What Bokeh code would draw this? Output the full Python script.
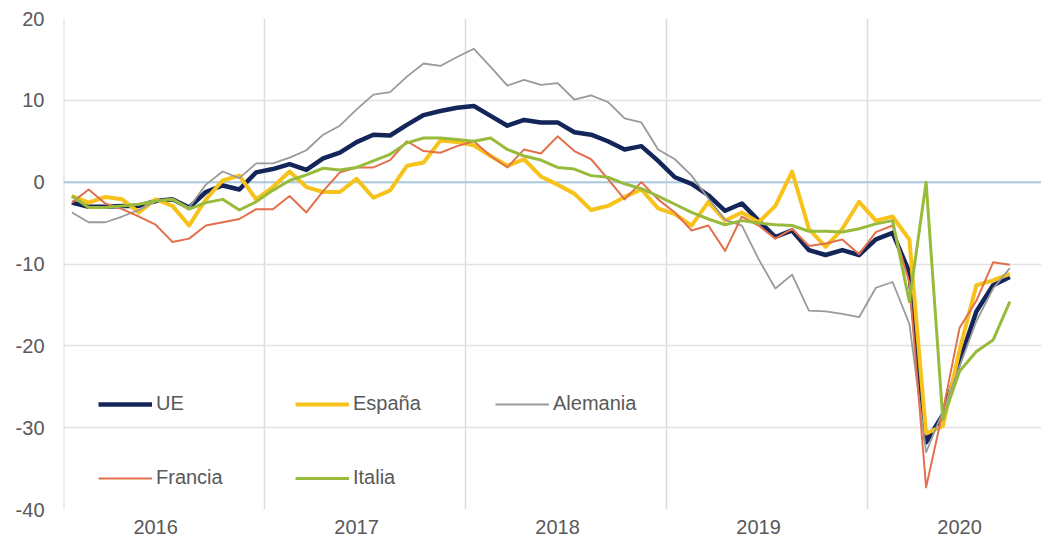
from bokeh.plotting import figure
from bokeh.models import Range1d, FixedTicker, Span, Legend, LegendItem
from bokeh.embed import file_html
from bokeh.resources import INLINE

# ---- data (monthly, Jan 2016 - Sep 2020) ----
years = ["2016", "2017", "2018", "2019", "2020"]
n_months = 57

ue = [-2.5, -3.0, -3.0, -2.9, -2.9, -2.3, -2.1, -3.1, -1.2, -0.4, -0.9, 1.2,
      1.6, 2.2, 1.5, 2.9, 3.6, 4.9, 5.8, 5.7, 7.0, 8.2, 8.7, 9.1,
      9.3, 8.1, 6.9, 7.6, 7.3, 7.3, 6.1, 5.8, 5.0, 4.0, 4.4, 2.6,
      0.6, -0.2, -1.6, -3.5, -2.6, -4.7, -6.7, -5.9, -8.3, -8.9, -8.3, -8.9,
      -7.0, -6.2, -11.0, -31.8, -28.4, -21.9, -15.8, -12.6, -11.6]

espana = [-1.7, -2.5, -1.8, -2.1, -3.7, -2.1, -2.9, -5.3, -2.1, 0.2, 0.8, -2.1,
          -0.6, 1.3, -0.6, -1.2, -1.2, 0.4, -1.9, -1.0, 2.0, 2.4, 5.1, 4.9,
          4.5, 3.2, 2.0, 2.8, 0.7, -0.3, -1.4, -3.4, -2.9, -1.8, -0.9, -3.2,
          -3.9, -5.3, -2.4, -4.7, -3.7, -4.9, -2.9, 1.3, -5.7, -7.9, -5.7, -2.4,
          -4.7, -4.2, -7.0, -30.7, -29.8, -20.5, -12.6, -12.0, -11.2]

alemania = [-3.7, -4.9, -4.9, -4.2, -3.4, -2.3, -2.0, -3.1, -0.3, 1.3, 0.5, 2.3,
            2.3, 3.0, 3.9, 5.8, 6.9, 8.9, 10.7, 11.0, 12.9, 14.5, 14.2, 15.3,
            16.3, 14.1, 11.8, 12.5, 11.9, 12.1, 10.1, 10.6, 9.8, 7.8, 7.3, 4.0,
            2.8, 0.8, -2.0, -4.6, -5.3, -9.4, -13.0, -11.3, -15.7, -15.8, -16.1, -16.5,
            -12.9, -12.2, -17.3, -33.0, -28.0, -22.5, -17.0, -13.0, -10.5]

francia = [-2.5, -0.9, -2.6, -3.3, -4.2, -5.2, -7.3, -6.9, -5.3, -4.9, -4.5, -3.3,
           -3.3, -1.7, -3.7, -1.1, 1.2, 1.8, 1.8, 2.7, 5.0, 3.8, 3.6, 4.4,
           5.0, 3.2, 1.8, 4.0, 3.5, 5.6, 3.8, 2.8, 0.4, -2.1, 0.0, -2.1,
           -3.7, -5.9, -5.3, -8.4, -4.2, -5.3, -6.9, -5.7, -7.8, -7.5, -7.0, -8.8,
           -6.1, -5.3, -12.3, -37.3, -28.0, -17.8, -14.5, -9.8, -10.1]

italia = [-1.7, -3.1, -3.1, -2.9, -2.7, -2.3, -2.1, -3.3, -2.5, -2.1, -3.4, -2.4,
          -1.0, 0.2, 0.9, 1.7, 1.5, 1.8, 2.6, 3.4, 4.8, 5.4, 5.4, 5.2,
          5.0, 5.4, 4.0, 3.2, 2.7, 1.8, 1.6, 0.8, 0.6, -0.2, -0.8, -1.7,
          -2.7, -3.7, -4.5, -5.2, -4.7, -5.0, -5.2, -5.3, -6.0, -6.0, -6.1, -5.7,
          -5.1, -4.7, -14.6, 0.0, -29.0, -23.1, -20.7, -19.3, -14.6]

y_ticks = [-40, -30, -20, -10, 0, 10, 20]
y_labels = ["-40", "-30", "-20", "-10", "0", "10", "20"]

# month centres on a continuous month axis
x = [m + 0.5 for m in range(n_months)]

FONT = "Liberation Sans"
TXT = "#595959"

p = figure(width=1041, height=542, output_backend="svg", toolbar_location=None,
           x_range=Range1d(0, 58.39), y_range=Range1d(-40, 20),
           min_border_left=63, min_border_right=0, min_border_top=18,
           min_border_bottom=33)
p.outline_line_color = None
p.background_fill_color = "white"
p.border_fill_color = "white"

# axes
p.xaxis.ticker = FixedTicker(ticks=[12 * k + 5.5 for k in range(len(years))])
p.xaxis.major_label_overrides = {12 * k + 5.5: yr for k, yr in enumerate(years)}
p.yaxis.ticker = FixedTicker(ticks=y_ticks)
p.yaxis.major_label_overrides = dict(zip(y_ticks, y_labels))
for ax in (p.xaxis[0], p.yaxis[0]):
    ax.axis_line_color = None
    ax.major_tick_line_color = None
    ax.minor_tick_line_color = None
    ax.major_tick_out = 0
    ax.major_tick_in = 0
    ax.major_label_text_font = FONT
    ax.major_label_text_font_size = "20px"
    ax.major_label_text_color = TXT
p.xaxis.major_label_standoff = 10
p.yaxis.major_label_standoff = 19

# grid
p.xgrid.ticker = FixedTicker(ticks=[0, 12, 24, 36, 48])
p.xgrid.grid_line_color = "#dcdcdc"
p.xgrid.grid_line_width = 1.5
p.ygrid.ticker = FixedTicker(ticks=y_ticks)
p.ygrid.grid_line_color = "#e2e2e2"
p.ygrid.grid_line_width = 1.5

left_edge = Span(location=0, dimension="height", line_color="#dcdcdc", line_width=2, level="underlay")
p.add_layout(left_edge)
zero = Span(location=0, dimension="width", line_color="#a8cbe2", line_width=2, level="underlay")
p.add_layout(zero)

r_ue = p.line(x, ue, line_color="#14255a", line_width=4.5, line_join="round")
r_es = p.line(x, espana, line_color="#f7c31a", line_width=4, line_join="round")
r_de = p.line(x, alemania, line_color="#9a9a9a", line_width=1.8, line_join="round")
r_fr = p.line(x, francia, line_color="#e2704d", line_width=2, line_join="round")
r_it = p.line(x, italia, line_color="#98bb3c", line_width=3, line_join="round")

def add_legend(label, rend, loc):
    lg = Legend(items=[LegendItem(label=label, renderers=[rend])], location=loc,
                border_line_color=None, background_fill_alpha=0, padding=0, margin=0,
                glyph_width=54, glyph_height=20, label_standoff=4,
                label_text_font=FONT, label_text_font_size="20px",
                label_text_color=TXT, label_height=20)
    p.add_layout(lg, "center")

add_legend("UE", r_ue, (35, 94))
add_legend("España", r_es, (232, 94))
add_legend("Alemania", r_de, (432, 94))
add_legend("Francia", r_fr, (35, 20))
add_legend("Italia", r_it, (232, 20))

open("out.html", "w").write(file_html(p, INLINE))
